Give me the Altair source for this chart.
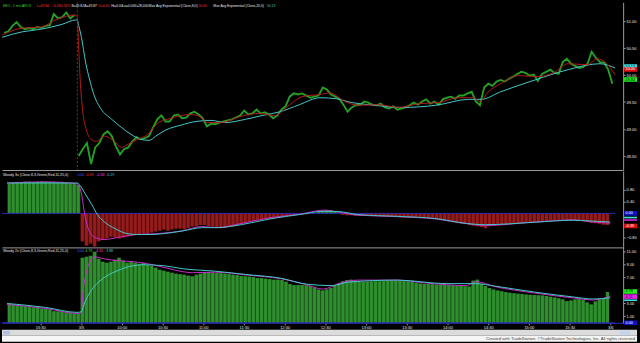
import altair as alt
import pandas as pd

# ---------------- data ----------------
# time axis: minutes from 15:00 of the prior session, overnight gap removed
# (prior session 15:00-16:00 -> 0..60, 3/5 session 9:30-16:00 -> 60..450)
T_PRIOR = list(range(7, 59, 3))      # 18 three-minute buckets
T_TODAY = list(range(61, 449, 3))    # 130 three-minute buckets
SESSION_BREAK = 60

X_TICKS = [30, 60, 90, 120, 150, 180, 210, 240, 270, 300, 330, 360, 390, 420, 450]
X_TICK_LABELS = ["15:30", "3/5", "10:00", "10:30", "11:00", "11:30", "12:00", "12:30",
                 "13:00", "13:30", "14:00", "14:30", "15:00", "15:30", "3/6"]

PRICE_PRIOR = [50.78, 50.81, 50.91, 50.98, 50.89, 50.85, 50.87, 50.85, 50.89, 50.87,
               50.91, 50.92, 51.13, 51.05, 51.07, 51.16, 51.05, 51.11]
PRICE_TODAY = [
    48.50, 48.63, 48.74, 48.35, 48.66, 48.74, 48.90, 48.96, 48.87, 48.68,
    48.53, 48.63, 48.66, 48.77, 48.85, 48.81, 48.83, 48.87, 49.03, 49.18,
    49.25, 49.14, 49.14, 49.25, 49.27, 49.20, 49.21, 49.29, 49.32, 49.27,
    49.20, 49.05, 49.10, 49.09, 49.12, 49.14, 49.16, 49.18, 49.21, 49.25,
    49.34, 49.27, 49.29, 49.36, 49.29, 49.31, 49.27, 49.20, 49.25, 49.36,
    49.42, 49.60, 49.66, 49.64, 49.66, 49.62, 49.58, 49.60, 49.62, 49.77,
    49.73, 49.64, 49.60, 49.56, 49.45, 49.32, 49.40, 49.44, 49.45, 49.51,
    49.49, 49.45, 49.44, 49.47, 49.40, 49.38, 49.42, 49.36, 49.38, 49.40,
    49.44, 49.49, 49.45, 49.51, 49.55, 49.47, 49.51, 49.45, 49.55, 49.58,
    49.60, 49.56, 49.62, 49.62, 49.66, 49.69, 49.51, 49.44, 49.77, 49.84,
    49.80, 49.88, 49.91, 49.88, 49.93, 49.97, 50.02, 50.06, 50.04, 49.99,
    50.01, 49.89, 50.02, 50.06, 50.10, 50.04, 50.02, 50.24, 50.30, 50.21,
    50.17, 50.13, 50.15, 50.21, 50.43, 50.32, 50.24, 50.23, 50.10, 49.84,
]

EMA8_T = [5.5, 20, 34, 45, 52, 59, 60, 61, 62, 64,
          66.5, 70, 74, 79.5, 87, 92, 97, 104, 111, 118,
          128, 142, 149, 154, 164, 178, 192, 203, 214, 223,
          236, 243, 254, 264, 279, 293, 308, 322, 336, 347,
          352, 358, 367, 380, 394, 405, 416, 430, 437, 444, 450]
EMA8_V = [50.74, 50.87, 50.89, 51.03, 51.09, 51.11, 51.07, 50.52, 49.97, 49.32,
          48.99, 48.81, 48.77, 48.87, 48.77, 48.66, 48.72, 48.81, 48.90, 49.10,
          49.20, 49.27, 49.23, 49.12, 49.12, 49.23, 49.29, 49.25, 49.45, 49.60,
          49.64, 49.67, 49.51, 49.44, 49.45, 49.40, 49.47, 49.49, 49.58, 49.58,
          49.51, 49.69, 49.84, 49.99, 49.97, 50.04, 50.21, 50.19, 50.30, 50.21, 50.00]

EMA20_T = [5.5, 20, 34, 49, 59, 60, 61, 63, 66, 69,
           72, 77, 85, 92, 99, 106, 112, 117, 124, 135,
           146, 157, 167, 182, 194, 207, 221, 236, 248, 259,
           272, 295, 320, 344, 353, 367, 392, 416, 439, 450]
EMA20_V = [50.70, 50.80, 50.85, 50.94, 51.02, 51.02, 50.92, 50.70, 50.24, 49.91,
           49.64, 49.38, 49.18, 49.03, 48.90, 48.81, 48.79, 48.87, 48.98, 49.07,
           49.14, 49.16, 49.12, 49.18, 49.25, 49.32, 49.45, 49.58, 49.56, 49.49,
           49.45, 49.40, 49.44, 49.55, 49.55, 49.69, 49.91, 50.10, 50.21, 50.13]

PRICE_TICKS = [48.5, 49.0, 49.5, 50.0, 50.5, 51.0]
LAST_PRICE, LAST_EMA8, LAST_EMA20 = 49.84, 50.00, 50.13

# Woody 3x panel (histogram + two lines)
WA_PRIOR = [1.00, 1.02, 1.03, 1.05, 1.06, 1.06, 1.05, 1.06, 1.07, 1.06,
            1.05, 1.05, 1.04, 1.03, 1.02, 1.00, 0.98, 0.95]
WA_TODAY = [
    -0.94, -1.08, -1.01, -1.11, -0.94, -0.88, -0.84, -0.78, -0.81, -0.84,
    -0.81, -0.78, -0.74, -0.71, -0.71, -0.68, -0.68, -0.64, -0.61, -0.58,
    -0.54, -0.58, -0.54, -0.51, -0.51, -0.53, -0.49, -0.44, -0.43, -0.39,
    -0.39, -0.43, -0.44, -0.48, -0.50, -0.49, -0.46, -0.43, -0.39, -0.36,
    -0.33, -0.29, -0.26, -0.23, -0.21, -0.19, -0.18, -0.16, -0.14, -0.13,
    -0.09, -0.08, -0.06, -0.04, -0.03, -0.03, -0.01, 0.01, 0.06, 0.09,
    0.11, 0.11, 0.07, 0.02, -0.05, -0.06, -0.06, -0.08, -0.08, -0.08,
    -0.08, -0.09, -0.09, -0.09, -0.09, -0.09, -0.09, -0.11, -0.13, -0.13,
    -0.13, -0.13, -0.13, -0.13, -0.14, -0.16, -0.18, -0.19, -0.22, -0.24,
    -0.27, -0.30, -0.32, -0.34, -0.36, -0.39, -0.41, -0.43, -0.46, -0.50,
    -0.43, -0.40, -0.38, -0.37, -0.36, -0.35, -0.34, -0.33, -0.33, -0.31,
    -0.29, -0.29, -0.28, -0.26, -0.25, -0.24, -0.23, -0.22, -0.22, -0.22,
    -0.22, -0.23, -0.23, -0.26, -0.29, -0.32, -0.33, -0.35, -0.38, -0.39,
]
WA_MAG_T = [5.5, 34, 57, 60, 63, 67, 72, 77, 87, 101,
            116, 135, 149, 160, 178, 200, 221, 239, 250, 264,
            293, 322, 344, 358, 394, 423, 437, 450]
WA_MAG_V = [1.02, 1.06, 0.99, 0.72, -0.11, -0.68, -0.84, -0.88, -0.81, -0.71,
            -0.68, -0.58, -0.44, -0.48, -0.34, -0.14, -0.03, 0.11, 0.04, -0.06,
            -0.11, -0.19, -0.34, -0.41, -0.29, -0.22, -0.29, -0.33]
WA_CYA_T = [5.5, 57, 60, 63, 68, 72, 77, 85, 94, 101,
            111, 121, 135, 149, 160, 178, 200, 221, 239, 250,
            264, 293, 322, 344, 358, 394, 423, 437, 450]
WA_CYA_V = [1.02, 1.02, 0.89, 0.66, 0.29, -0.04, -0.28, -0.51, -0.68, -0.71,
            -0.71, -0.68, -0.59, -0.48, -0.48, -0.38, -0.18, -0.04, 0.07, 0.06,
            -0.04, -0.10, -0.18, -0.34, -0.38, -0.30, -0.23, -0.26, -0.29]
WA_TICKS = [-0.8, 0.4, 0.8]          # 0.00 and -0.40 sit under the value tags
WA_LAST = [0.00, -0.39, -0.33, -0.29]

# Woody 2x panel
WB_PRIOR = [2.85, 2.80, 2.66, 2.62, 2.57, 2.43, 2.38, 2.35, 2.20, 2.15,
            2.05, 1.80, 1.77, 1.72, 1.60, 1.55, 1.44, 1.42]
WB_TODAY = [
    10.08, 10.23, 10.38, 11.00, 9.92, 9.46, 9.31, 9.46, 9.77, 10.08,
    9.62, 9.31, 9.46, 9.31, 9.15, 9.31, 9.00, 8.85, 8.54, 8.23,
    8.08, 7.92, 7.77, 7.62, 7.54, 7.46, 7.31, 7.20, 7.46, 7.62,
    7.88, 7.85, 7.77, 7.72, 7.69, 7.62, 7.54, 7.46, 7.38, 7.26,
    7.20, 7.15, 7.08, 6.95, 6.92, 6.85, 6.77, 6.69, 6.69, 6.62,
    6.38, 6.00, 5.85, 5.85, 5.85, 5.82, 5.69, 5.46, 5.15, 5.00,
    5.15, 5.38, 5.77, 6.15, 6.43, 6.62, 6.69, 6.54, 6.38, 6.34,
    6.38, 6.42, 6.43, 6.43, 6.46, 6.49, 6.54, 6.54, 6.49, 6.46,
    6.43, 6.38, 6.23, 6.08, 6.03, 6.00, 5.97, 5.92, 5.92, 5.88,
    5.85, 5.80, 5.77, 5.72, 5.66, 5.62, 6.54, 6.69, 6.03, 5.69,
    5.38, 5.15, 5.00, 4.88, 4.77, 4.65, 4.57, 4.51, 4.45, 4.38,
    4.34, 4.31, 4.26, 4.23, 4.15, 4.03, 3.92, 3.80, 3.62, 3.35,
    3.46, 3.62, 3.72, 3.54, 3.15, 2.85, 3.31, 3.62, 3.80, 4.78,
]
WB_MAG_T = [5.5, 34, 57, 60, 61.5, 64, 66.5, 70, 77, 88,
            99, 113, 128, 142, 159, 183, 207, 226, 238, 252,
            264, 293, 315, 344, 351, 365, 394, 423, 437, 450]
WB_MAG_V = [2.85, 2.23, 1.46, 1.55, 4.80, 7.92, 9.46, 10.23, 9.92, 9.62,
            9.46, 9.00, 8.23, 7.77, 7.85, 7.38, 6.85, 5.92, 5.23, 6.23,
            6.62, 6.62, 6.15, 5.77, 6.38, 5.62, 4.62, 3.85, 3.54, 4.11]
WB_CYA_T = [5.5, 34, 57, 60, 63, 68, 77, 85, 95, 106,
            121, 135, 159, 183, 207, 226, 245, 257, 293, 329,
            351, 365, 394, 423, 437, 450]
WB_CYA_V = [3.00, 2.38, 1.62, 1.70, 3.31, 5.15, 7.00, 7.92, 8.69, 9.00,
            8.85, 8.38, 8.00, 7.46, 6.92, 6.00, 5.77, 6.31, 6.62, 6.08,
            6.08, 5.69, 4.77, 4.00, 3.69, 3.88]
WB_TICKS = [1, 3, 7, 9, 11]          # 5.00 sits under the value tags
WB_LAST = [0.00, 4.78, 4.11, 3.88]

FOOTER_TEXT = "Created with TradeStation. \u00a9TradeStation Technologies, Inc. All rights reserved."

# ---------------- styling ----------------
FONT = "Liberation Sans"
W = 626
H1, H2, H3 = 169, 77, 76
WHITE = "#e6e6e6"
GREY = "#9a9a9a"
GREEN_TXT = "#33d633"
RED_TXT = "#ff3030"
CYAN = "#45c8c8"
MAGENTA = "#c82ac8"
BLUE = "#2a2ab8"
ONE = pd.DataFrame({"k": [0]})

X_SCALE = alt.Scale(domain=[5.4, 455.8], nice=False, zero=False)
P_SCALE = alt.Scale(domain=[48.241, 51.347], nice=False, zero=False)
A_SCALE = alt.Scale(domain=[-1.143, 1.423], nice=False, zero=False)
B_SCALE = alt.Scale(domain=[0.0, 11.69], nice=False, zero=False)

LABEL_EXPR = "[" + ",".join("'%s'" % s for s in X_TICK_LABELS) + "][round(datum.value / 30) - 1]"


def x_enc(bottom=False):
    if bottom:
        ax = alt.Axis(values=X_TICKS, labelExpr=LABEL_EXPR, title=None, grid=False,
                      domain=True, domainColor=BLUE, ticks=True, tickSize=2, tickColor=GREY,
                      labelColor=WHITE, labelFontSize=4, labelPadding=1, labelFont=FONT,
                      labelFlush=False, labelOverlap=False)
    else:
        ax = alt.Axis(title=None, grid=False, labels=False, ticks=False,
                      domain=True, domainColor=GREY)
    return alt.X("t:Q", scale=X_SCALE, axis=ax)


def y_axis(values):
    return alt.Axis(orient="right", values=values, format=".2f", title=None, grid=False,
                    tickSize=2, tickColor=GREY, domainColor=GREY, labelColor=WHITE,
                    labelFontSize=4, labelPadding=1, labelFont=FONT, labelOverlap=False)


def label(x, y, text, color, size=3.6):
    return alt.Chart(ONE).mark_text(text=text, color=color, fontSize=size, font=FONT,
                                    align="left", baseline="middle").encode(
        x=alt.value(x), y=alt.value(y))


def tag(yenc, field, value, bg, fg, text, yoff=0.0, thick=4.6):
    df = pd.DataFrame({field: [value]})
    r = alt.Chart(df).mark_rule(color=bg, strokeWidth=thick, yOffset=yoff).encode(
        y=yenc, x=alt.value(627), x2=alt.value(640))
    layers = [r]
    if text:
        t = alt.Chart(df).mark_text(text=text, color=fg, fontSize=3.8, font=FONT, align="left",
                                    baseline="middle", yOffset=yoff).encode(
            y=yenc, x=alt.value(628.5))
        layers.append(t)
    return layers


# ---------------- panel 1: price ----------------
xe = x_enc(False)
ye = alt.Y("p:Q", scale=P_SCALE, axis=y_axis(PRICE_TICKS))
price_df = pd.DataFrame({
    "t": T_PRIOR + T_TODAY,
    "p": PRICE_PRIOR + PRICE_TODAY,
    "session": ["prior"] * len(T_PRIOR) + ["today"] * len(T_TODAY),
})
ema8_df = pd.DataFrame({"t": EMA8_T, "p": EMA8_V})
ema20_df = pd.DataFrame({"t": EMA20_T, "p": EMA20_V})
brk_df = pd.DataFrame({"t": [SESSION_BREAK]})

p1_layers = [
    alt.Chart(brk_df).mark_rule(color="#8a4848", strokeDash=[2, 2], strokeWidth=0.8).encode(x=xe),
    alt.Chart(price_df).mark_line(color="#24a024", strokeWidth=1.9, strokeJoin="miter").encode(
        x=xe, y=ye, detail="session:N"),
    alt.Chart(ema20_df).mark_line(color=CYAN, strokeWidth=1, interpolate="monotone").encode(x=xe, y=ye),
    alt.Chart(ema8_df).mark_line(color="#b41818", strokeWidth=1, interpolate="monotone").encode(x=xe, y=ye),
]
p1_layers += tag(ye, "p", LAST_EMA20, "#40e0e0", "#000000", "%.2f" % LAST_EMA20, -1.5)
p1_layers += tag(ye, "p", LAST_EMA8, "#e01010", "#ffffff", "%.2f" % LAST_EMA8, -5.6)
p1_layers += tag(ye, "p", LAST_PRICE, "#20f020", "#000000", "%.2f" % LAST_PRICE, -4.2)
legend1 = [
    (1, "EEO - 1 min ARCX", GREEN_TXT), (35, "L=%.2f" % LAST_PRICE, RED_TXT), (51, "-0.28", RED_TXT),
    (58, "-0.56%", RED_TXT), (70, "B=49.82", WHITE), (83, "A=49.87", WHITE), (97, "O=0.00", RED_TXT),
    (110, "Hi=0.00", WHITE), (121, "Lo=0.00", WHITE), (133, "V=28,000", WHITE),
    (148, "Mov Avg Exponential (Close,8,0)", WHITE), (198, "%.2f" % LAST_EMA8, RED_TXT),
    (213, "Mov Avg Exponential (Close,20,0)", WHITE), (267, "%.2f" % LAST_EMA20, CYAN),
]
p1_layers += [label(x, 4, s, c, 3.4) for x, s, c in legend1]
panel1 = alt.layer(*p1_layers).properties(width=W, height=H1)


# ---------------- oscillator panels ----------------
def osc_panel(prior, today, mag_t, mag_v, cya_t, cya_v, scale, ticks, bottom,
              pos_bar, pos_bg, neg_bar, neg_bg):
    x_e = x_enc(bottom)
    y_e = alt.Y("v:Q", scale=scale, axis=y_axis(ticks))
    df = pd.DataFrame({"t": T_PRIOR + T_TODAY, "v": prior + today})
    base = alt.Chart(df).transform_calculate(pos="max(datum.v, 0)", neg="min(datum.v, 0)")
    layers = [
        base.mark_area(interpolate="step", color=pos_bg).encode(
            x=x_e, y=alt.Y("pos:Q", scale=scale, axis=y_axis(ticks)), y2=alt.datum(0)),
        base.mark_area(interpolate="step", color=neg_bg).encode(
            x=x_e, y=alt.Y("neg:Q", scale=scale, axis=y_axis(ticks)), y2=alt.datum(0)),
        base.mark_bar(width=3.0, orient="vertical").encode(
            x=x_e, y=y_e, y2=alt.datum(0),
            color=alt.condition("datum.v >= 0", alt.value(pos_bar), alt.value(neg_bar))),
        alt.Chart(pd.DataFrame({"v": [0.0]})).mark_rule(color=BLUE, strokeWidth=1).encode(
            y=y_e, x=alt.value(0), x2=alt.value(618)),
        alt.Chart(pd.DataFrame({"t": mag_t, "v": mag_v})).mark_line(
            color=MAGENTA, strokeWidth=1, interpolate="monotone").encode(x=x_e, y=y_e),
        alt.Chart(pd.DataFrame({"t": cya_t, "v": cya_v})).mark_line(
            color=CYAN, strokeWidth=1, interpolate="monotone").encode(x=x_e, y=y_e),
    ]
    return layers, y_e


a_layers, ya = osc_panel(WA_PRIOR, WA_TODAY, WA_MAG_T, WA_MAG_V, WA_CYA_T, WA_CYA_V,
                         A_SCALE, WA_TICKS, False,
                         "#2f8f2f", "#1a561a", "#931c1c", "#560a0a")
a_layers += tag(ya, "v", WA_LAST[0], "#1010c8", "#ffffff", "%.2f" % WA_LAST[0], 0)
a_layers += tag(ya, "v", WA_LAST[3], "#40e0e0", "#000000", "", -4.5, 1.6)
a_layers += tag(ya, "v", WA_LAST[2], "#e020e0", "#000000", "", -3.2, 1.6)
a_layers += tag(ya, "v", WA_LAST[1], "#e01010", "#ffffff", "%.2f" % WA_LAST[1], 1)
legend2 = [(1, "Woody 3x (Close,8,3,Green,Red,11,25,0)", WHITE), (76, "%.2f" % WA_LAST[0], "#5050ff"),
           (84, "%.2f" % WA_LAST[1], RED_TXT), (95, "%.2f" % WA_LAST[2], "#ff40ff"),
           (105, "%.2f" % WA_LAST[3], CYAN)]
a_layers += [label(x, 4, s, c) for x, s, c in legend2]
panel2 = alt.layer(*a_layers).properties(width=W, height=H2)

b_layers, yb = osc_panel(WB_PRIOR, WB_TODAY, WB_MAG_T, WB_MAG_V, WB_CYA_T, WB_CYA_V,
                         B_SCALE, WB_TICKS, True,
                         "#2f8f2f", "#1a561a", "#931c1c", "#560a0a")
b_layers += tag(yb, "v", WB_LAST[0], "#1010c8", "#ffffff", "%.2f" % WB_LAST[0], 0)
b_layers += tag(yb, "v", WB_LAST[3], "#40e0e0", "#000000", "", 2.5, 1.6)
b_layers += tag(yb, "v", WB_LAST[1], "#20f020", "#000000", "%.2f" % WB_LAST[1], -0.5)
b_layers += tag(yb, "v", WB_LAST[2], "#f020f0", "#000000", "%.2f" % WB_LAST[2], 0.3)
legend3 = [(1, "Woody 2x (Close,8,3,Green,Red,11,25,0)", WHITE), (76, "%.2f" % WB_LAST[0], "#5050ff"),
           (84, "%.2f" % WB_LAST[1], GREEN_TXT), (95, "%.2f" % WB_LAST[2], "#ff40ff"),
           (105, "%.2f" % WB_LAST[3], CYAN)]
b_layers += [label(x, 4, s, c) for x, s, c in legend3]
panel3 = alt.layer(*b_layers).properties(width=W, height=H3)

# ---------------- footer strip ----------------
footer = alt.layer(
    alt.Chart(ONE).mark_rect(color="#dcdcdc").encode(
        x=alt.value(0), x2=alt.value(640), y=alt.value(0), y2=alt.value(6)),
    alt.Chart(ONE).mark_rect(color="#f5f5f5").encode(
        x=alt.value(0), x2=alt.value(640), y=alt.value(6), y2=alt.value(12)),
    alt.Chart(ONE).mark_rect(color="#aebfe0").encode(
        x=alt.value(1), x2=alt.value(8), y=alt.value(1), y2=alt.value(5)),
    alt.Chart(ONE).mark_rect(color="#c4d2ee").encode(
        x=alt.value(623), x2=alt.value(633), y=alt.value(1), y2=alt.value(5)),
    alt.Chart(ONE).mark_text(text=FOOTER_TEXT, color="#404040", fontSize=4.3, font=FONT,
                             align="right", baseline="middle").encode(
        x=alt.value(639), y=alt.value(9)),
).properties(width=640, height=12)

chart = alt.vconcat(panel1, panel2, panel3, footer, spacing=0).properties(
    padding=0
).configure(background="#000000").configure_view(stroke=None)

chart.save("out.html", embed_options={"renderer": "svg", "actions": False})
